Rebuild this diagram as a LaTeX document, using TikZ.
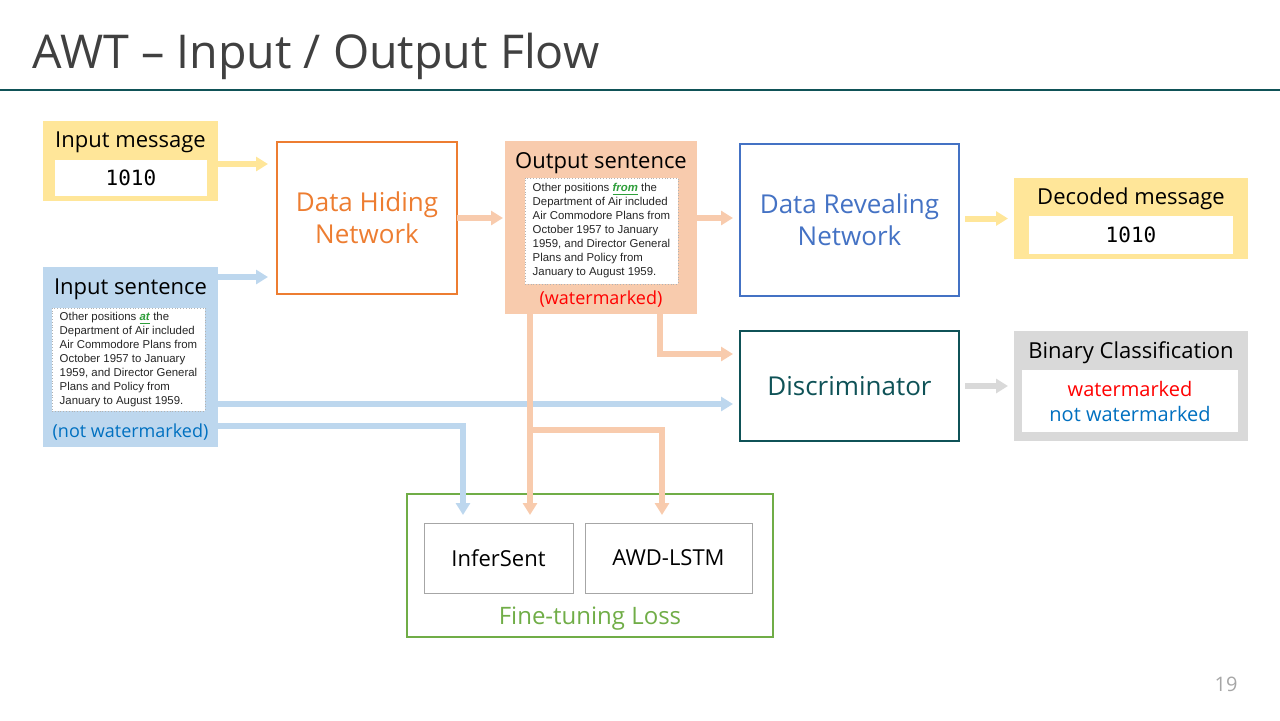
\documentclass[tikz,border=0pt]{standalone}
\usepackage{fontspec}
\setmainfont{Open Sans}
\newfontfamily\monofont{DejaVu Sans Mono}
\newfontfamily\arialfont{Liberation Sans}
\usetikzlibrary{arrows.meta,calc}

\definecolor{msgyellow}{HTML}{FFE699}
\definecolor{sentblue}{HTML}{BDD7EE}
\definecolor{sentpeach}{HTML}{F8CBAD}
\definecolor{classgray}{HTML}{D9D9D9}
\definecolor{hideorange}{HTML}{ED7D31}
\definecolor{revealblue}{HTML}{4472C4}
\definecolor{discteal}{HTML}{0F5257}
\definecolor{lossgreen}{HTML}{70AD47}
\definecolor{notwmblue}{HTML}{0070C0}
\definecolor{wmred}{HTML}{FF0000}
\definecolor{wmgreen}{HTML}{2E9E3A}
\definecolor{titlegray}{HTML}{404040}

\newcommand{\wmword}[1]{\textcolor{wmgreen}{\underline{\textbf{\textit{#1}}}}}
\newcommand{\sentlines}[1]{Other positions #1 the\\Department of Air included\\Air Commodore Plans from\\October 1957 to January\\1959, and Director General\\Plans and Policy from\\January to August 1959.}

\begin{document}
\begin{tikzpicture}[x=0.5pt,y=-0.5pt,
  box/.style={draw,line width=1pt,inner sep=0pt,outer sep=0pt,align=center},
  plainbox/.style={inner sep=0pt,outer sep=0pt},
  sentbox/.style={fill=white,draw=gray!60,densely dotted,line width=0.4pt,inner sep=0pt,outer sep=0pt,
    align=left,text=black!85,font=\arialfont\fontsize{5.7}{7}\selectfont},
  capt/.style={font=\fontsize{11}{13}\selectfont},
  flow/.style={line width=3pt,-{Triangle[width=7pt,length=6pt]}}
]
\useasboundingbox (0,0) rectangle (1280,720);

\node[anchor=base west,text=titlegray,font=\fontsize{23.3}{27}\selectfont,inner sep=0pt] (title) at (32,68) {AWT -- Input / Output Flow};
\draw[discteal,line width=1pt] (0,90) -- (1280,90);

% inputs
\node[plainbox,fill=msgyellow,minimum width=87.5pt,minimum height=40pt] (inmsg) at (130.5,161) {};
\node[capt] (inmsgcapt) at (130.5,142) {Input message};
\node[plainbox,fill=white,minimum width=76pt,minimum height=18pt,font=\monofont\fontsize{10.5}{12}\selectfont] (inmsgval) at (131,178) {1010};

\node[plainbox,fill=sentblue,minimum width=87.5pt,minimum height=90pt] (insent) at (130.5,357) {};
\node[capt] (insentcapt) at (130.5,289) {Input sentence};
\node[sentbox,minimum width=76.5pt,minimum height=51.5pt] (insenttext) at (128.5,359.5) {\sentlines{\wmword{at}}};
\node[capt,text=notwmblue,font=\fontsize{9}{11}\selectfont] (insentnote) at (130.5,432) {(not watermarked)};

% networks
\node[box,draw=hideorange,text=hideorange,minimum width=90pt,minimum height=76pt,font=\fontsize{13}{16}\selectfont] (hide) at (367,218) {Data Hiding\\Network};

\node[plainbox,fill=sentpeach,minimum width=96pt,minimum height=86.5pt] (outsent) at (601,227.5) {};
\node[capt] (outsentcapt) at (601,163) {Output sentence};
\node[sentbox,minimum width=76.5pt,minimum height=53pt] (outsenttext) at (601.5,231) {\sentlines{\wmword{from}}};
\node[capt,text=wmred,font=\fontsize{9}{11}\selectfont] (outsentnote) at (601,299) {(watermarked)};

\node[box,draw=revealblue,text=revealblue,minimum width=109.5pt,minimum height=76pt,font=\fontsize{13}{16}\selectfont] (reveal) at (849.5,220) {Data Revealing\\Network};

\node[plainbox,fill=msgyellow,minimum width=117pt,minimum height=40.5pt] (decoded) at (1131,218.5) {};
\node[capt] (decodedcapt) at (1131,199) {Decoded message};
\node[plainbox,fill=white,minimum width=102pt,minimum height=19pt,font=\monofont\fontsize{10.5}{12}\selectfont] (decodedval) at (1131,235) {1010};

\node[box,draw=discteal,text=discteal,minimum width=109.5pt,minimum height=55pt,font=\fontsize{13}{16}\selectfont] (disc) at (849.5,386) {Discriminator};

\node[plainbox,fill=classgray,minimum width=117pt,minimum height=55pt] (binary) at (1131,386) {};
\node[capt] (binarycapt) at (1131,353) {Binary Classification};
\node[plainbox,fill=white,minimum width=108pt,minimum height=31pt,align=center,font=\fontsize{10}{12.5}\selectfont] (binaryval) at (1130,401) {\textcolor{wmred}{watermarked}\\\textcolor{notwmblue}{not watermarked}};

% loss
\node[box,draw=lossgreen,minimum width=183pt,minimum height=71.5pt] (loss) at (590,565.5) {};
\node[box,draw=gray!70,line width=0.5pt,minimum width=74.5pt,minimum height=35pt,font=\fontsize{11}{13}\selectfont] (infer) at (498.5,558) {InferSent};
\node[box,draw=gray!70,line width=0.5pt,minimum width=83.5pt,minimum height=35pt,font=\fontsize{11}{13}\selectfont] (awd) at (668.5,558) {AWD-LSTM};
\node[text=lossgreen,font=\fontsize{12}{14}\selectfont] (losscapt) at (590,619) {Fine-tuning Loss};

\node[text=gray!70,font=\fontsize{10}{12}\selectfont] (pagenum) at (1226,684) {19};

% connectors
\coordinate (blueturn) at (463,426);
\coordinate (peachdown) at (530,314);
\coordinate (peachturn) at (662,430);

\draw[flow,msgyellow,shorten >=4.5pt] ([yshift=-1.5pt]inmsg.east) -- ([yshift=-1.5pt]inmsg.east -| hide.west);
\draw[flow,sentblue,shorten >=4.5pt] ([yshift=-5pt]insent.north east) -- ([yshift=-5pt]insent.north east -| hide.west);
\draw[flow,sentpeach,shorten >=1pt] (hide.east) -- (hide.east -| outsent.west);
\draw[flow,sentpeach,shorten >=3.5pt] (outsent.east |- hide.east) -- (hide.east -| reveal.west);
\draw[flow,msgyellow,shorten <=3pt,shorten >=3pt] (reveal.east |- decoded.west) -- (decoded.west);
\draw[flow,sentpeach,shorten >=3.5pt] (outsent.south -| 660,0) |- ([yshift=16pt]disc.west);
\draw[flow,sentblue,shorten >=3.5pt] (insent.east |- 0,404) -- ([yshift=-9pt]disc.west);
\draw[flow,classgray,shorten <=3pt,shorten >=3pt] (disc.east) -- (disc.east -| binary.west);
\draw[flow,sentblue,shorten >=4pt] (insent.east |- blueturn) -- (blueturn) -- (blueturn |- infer.north);
\draw[flow,sentpeach,shorten >=4pt] (peachdown) -- (peachdown |- infer.north);
\draw[flow,sentpeach,shorten >=4pt] (peachdown |- peachturn) -- (peachturn) -- (peachturn |- awd.north);
\end{tikzpicture}
\end{document}
